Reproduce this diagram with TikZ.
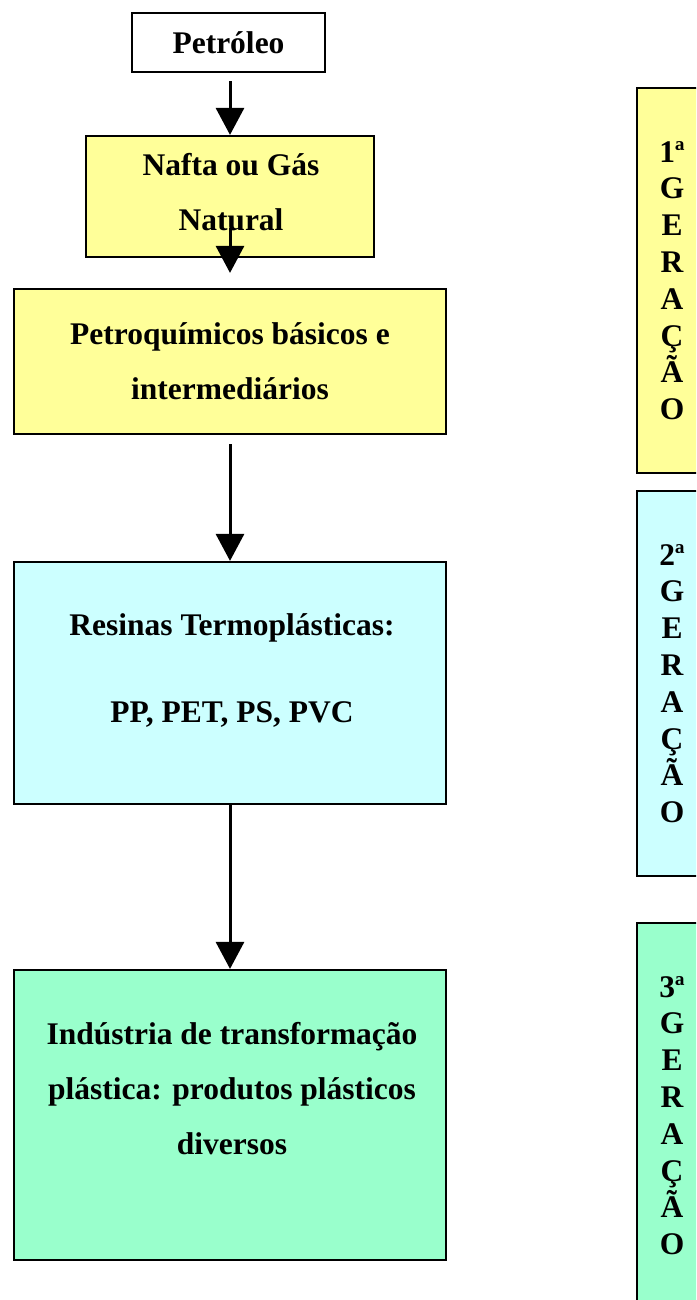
\documentclass[tikz,border=0pt]{standalone}
\usepackage{fontspec}
\setmainfont{Liberation Serif}
\usetikzlibrary{arrows.meta}
\definecolor{yel}{HTML}{FFFF99}
\definecolor{cya}{HTML}{CCFFFF}
\definecolor{grn}{HTML}{99FFCC}
\begin{document}
\begin{tikzpicture}[x=1pt,y=-1pt,
  box/.style={draw=black, line width=2.2pt, rectangle, inner sep=0pt},
  txt/.style={align=center, font=\bfseries\fontsize{31.5}{55}\selectfont, inner sep=0pt},
  vtxt/.style={align=center, font=\bfseries\fontsize{31.5}{36.8}\selectfont},
  arr/.style={line width=3pt, -{Triangle[width=28pt,length=27pt]}}]
\useasboundingbox (0,0) rectangle (696,1300);
\clip (0,0) rectangle (696,1300);
\fill[white] (0,0) rectangle (696,1300);

% main column
\node[box, fill=white, minimum width=193pt, minimum height=59pt, txt] (petroleo) at (228.5,42.5) {Petróleo};
\node[box, fill=yel, minimum width=288pt, minimum height=121pt] (nafta) at (230,196.5) {};
\node[txt] (naftaT) at (231,192.5) {Nafta ou Gás\\Natural};
\node[box, fill=yel, minimum width=432pt, minimum height=145pt, txt] (petro) at (230,361.5) {Petroquímicos básicos e\\intermediários};
\node[box, fill=cya, minimum width=432pt, minimum height=242pt] (resinas) at (230,683) {};
\node[txt] (resinasT) at (232,670) {Resinas Termoplásticas:\\[32pt]PP, PET, PS, PVC};
\node[box, fill=grn, minimum width=432pt, minimum height=290pt] (industria) at (230,1115) {};
\node[txt] (industriaT) at (232,1088.5) {Indústria de transformação\\plástica: produtos plásticos\\diversos};

% connectors
\draw[arr] ([yshift=-8pt]nafta.north |- petroleo.south) -- (nafta.north);
\draw[arr] ([yshift=30pt]nafta.south) -- ([yshift=15pt]petro.north);
\draw[arr] ([yshift=-9pt]petro.south) -- (resinas.north);
\draw[arr] (resinas.south) -- (industria.north);

% generation boxes
\node[box, fill=yel, minimum width=70pt, minimum height=385pt, vtxt] (ger1) at (672,280.5) {1ª\\G\\E\\R\\A\\Ç\\Ã\\O};
\node[box, fill=cya, minimum width=70pt, minimum height=385pt, vtxt] (ger2) at (672,683.5) {2ª\\G\\E\\R\\A\\Ç\\Ã\\O};
\node[box, fill=grn, minimum width=70pt, minimum height=385pt, vtxt] (ger3) at (672,1115.5) {3ª\\G\\E\\R\\A\\Ç\\Ã\\O};
\end{tikzpicture}
\end{document}
